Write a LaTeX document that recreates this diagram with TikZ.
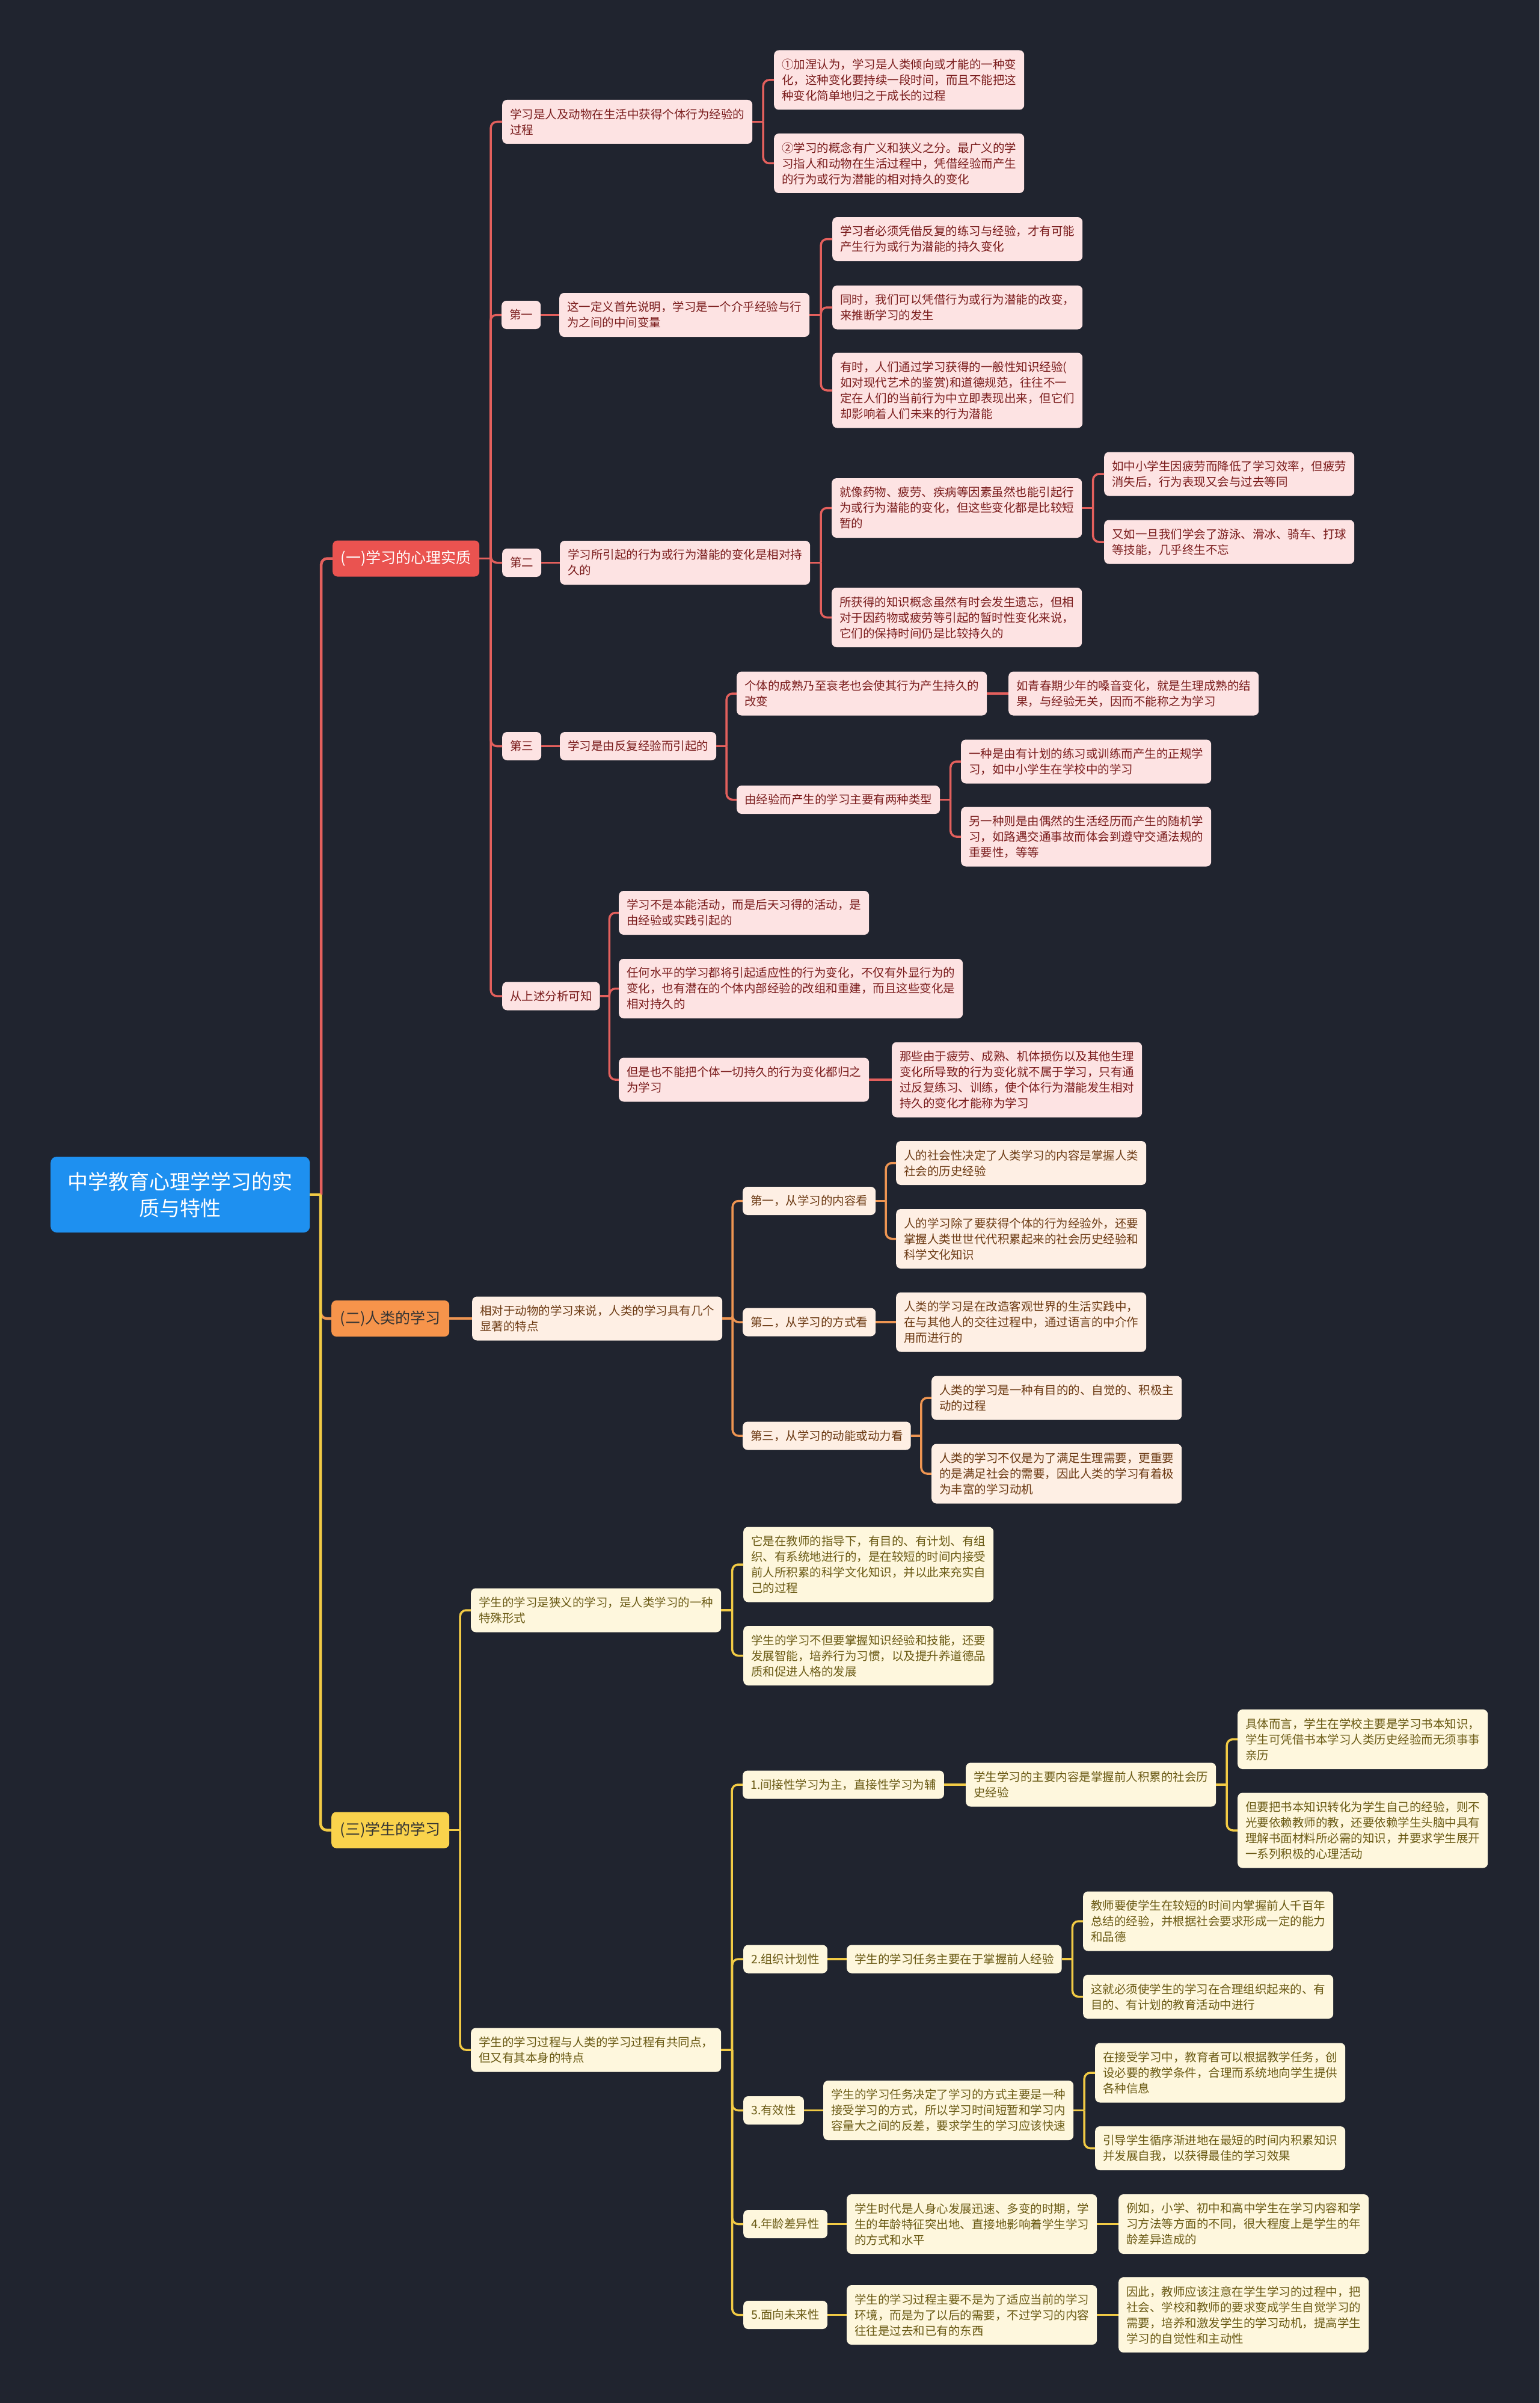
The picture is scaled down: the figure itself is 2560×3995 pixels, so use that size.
\documentclass[tikz,border=0pt]{standalone}
\usepackage{fontspec}
\setmainfont{Noto Sans CJK SC}
\usetikzlibrary{calc}
\definecolor{bgc}{HTML}{20242F}
\definecolor{rootc}{HTML}{1E90F0}
\definecolor{rline}{HTML}{E4605D}
\definecolor{rbr}{HTML}{EA5350}
\definecolor{rfill}{HTML}{FDE3E3}
\definecolor{rtext}{HTML}{7A1C1C}
\definecolor{oline}{HTML}{EE9552}
\definecolor{obr}{HTML}{F6944B}
\definecolor{ofill}{HTML}{FEEFE4}
\definecolor{otext}{HTML}{6B3912}
\definecolor{yline}{HTML}{F2CB45}
\definecolor{ybr}{HTML}{FAD34C}
\definecolor{yfill}{HTML}{FEF7DD}
\definecolor{ytext}{HTML}{6A5A14}
\newcommand\mmlink[3]{%
  \draw[#1] (#2.east) -- ($(#2.east)!0.5!(#3.west |- #2.east)$);
  \draw[#1,rounded corners=10] ($(#2.east)!0.5!(#3.west |- #2.east)$) |- (#3.west);
}
\newcommand\mmstraight[3]{%
  \draw[#1] (#2.east) -- (#3.west);
}
\tikzset{
  base/.style={rounded corners=8, inner xsep=13, inner ysep=4, align=left, anchor=west,
    font=\fontsize{19.5}{26}\selectfont},
  ln/.style={minimum height=26*#1+21},
  rleaf/.style={base, fill=rfill, text=rtext},
  oleaf/.style={base, fill=ofill, text=otext},
  yleaf/.style={base, fill=yfill, text=ytext},
  rootbox/.style={anchor=west, minimum width=431, minimum height=126, fill=rootc, text=white,
    align=center, font=\fontsize{34}{44}\selectfont, rounded corners=10, inner sep=4},
  brbox/.style={anchor=west, minimum height=60, font=\fontsize{25}{30}\selectfont,
    rounded corners=8, align=center, inner sep=4},
  rl/.style={rline, line width=3.5},
  ol/.style={oline, line width=3.5},
  yl/.style={yline, line width=3.5},
  rlt/.style={rline, line width=4.5},
  olt/.style={oline, line width=4.5},
  ylt/.style={yline, line width=4.5},
}
\begin{document}
\begin{tikzpicture}[x=1pt,y=-1pt]
\useasboundingbox (0,0) rectangle (2560,3995);
\fill[bgc] (0,0) rectangle (2560,3995);

% root and branches
\node[rootbox] (root) at (84,1986) {中学教育心理学学习的实\\质与特性};
\node[brbox, minimum width=244, fill=rbr, text=white] (L1) at (553,928.5) {(一)学习的心理实质};
\node[brbox, minimum width=196, fill=obr, text=black!80] (L2) at (551,2192) {(二)人类的学习};
\node[brbox, minimum width=196, fill=ybr, text=black!80] (L3) at (551,3042.5) {(三)学生的学习};

% ---------- branch 1 ----------
\node[rleaf, ln=2] (A1) at (835,202.5) {学习是人及动物在生活中获得个体行为经验的\\过程};
\node[rleaf, ln=3] (A1a) at (1287,133) {①加涅认为，学习是人类倾向或才能的一种变\\化，这种变化要持续一段时间，而且不能把这\\种变化简单地归之于成长的过程};
\node[rleaf, ln=3] (A1b) at (1287,271.5) {②学习的概念有广义和狭义之分。最广义的学\\习指人和动物在生活过程中，凭借经验而产生\\的行为或行为潜能的相对持久的变化};

\node[rleaf, ln=1] (B0) at (834,523.5) {第一};
\node[rleaf, ln=2] (B1) at (930,523.5) {这一定义首先说明，学习是一个介乎经验与行\\为之间的中间变量};
\node[rleaf, ln=2] (B1a) at (1384,397.5) {学习者必须凭借反复的练习与经验，才有可能\\产生行为或行为潜能的持久变化};
\node[rleaf, ln=2] (B1b) at (1384,511) {同时，我们可以凭借行为或行为潜能的改变，\\来推断学习的发生};
\node[rleaf, ln=4] (B1c) at (1384,649) {有时，人们通过学习获得的一般性知识经验(\\如对现代艺术的鉴赏)和道德规范，往往不一\\定在人们的当前行为中立即表现出来，但它们\\却影响着人们未来的行为潜能};

\node[rleaf, ln=1] (C0) at (835,935.5) {第二};
\node[rleaf, ln=2] (C1) at (931,935.5) {学习所引起的行为或行为潜能的变化是相对持\\久的};
\node[rleaf, ln=3] (C1a) at (1383,844.5) {就像药物、疲劳、疾病等因素虽然也能引起行\\为或行为潜能的变化，但这些变化都是比较短\\暂的};
\node[rleaf, ln=3] (C1b) at (1383,1026.5) {所获得的知识概念虽然有时会发生遗忘，但相\\对于因药物或疲劳等引起的暂时性变化来说，\\它们的保持时间仍是比较持久的};
\node[rleaf, ln=2] (C1a1) at (1836,788) {如中小学生因疲劳而降低了学习效率，但疲劳\\消失后，行为表现又会与过去等同};
\node[rleaf, ln=2] (C1a2) at (1836,901) {又如一旦我们学会了游泳、滑冰、骑车、打球\\等技能，几乎终生不忘};

\node[rleaf, ln=1] (D0) at (835,1240.5) {第三};
\node[rleaf, ln=1] (D1) at (931,1240.5) {学习是由反复经验而引起的};
\node[rleaf, ln=2] (D1a) at (1225,1153) {个体的成熟乃至衰老也会使其行为产生持久的\\改变};
\node[rleaf, ln=2] (D1a1) at (1677,1153) {如青春期少年的嗓音变化，就是生理成熟的结\\果，与经验无关，因而不能称之为学习};
\node[rleaf, ln=1] (D1b) at (1225,1329.5) {由经验而产生的学习主要有两种类型};
\node[rleaf, ln=2] (D1b1) at (1598,1266) {一种是由有计划的练习或训练而产生的正规学\\习，如中小学生在学校中的学习};
\node[rleaf, ln=3] (D1b2) at (1598,1391) {另一种则是由偶然的生活经历而产生的随机学\\习，如路遇交通事故而体会到遵守交通法规的\\重要性，等等};

\node[rleaf, ln=1] (E0) at (835,1656) {从上述分析可知};
\node[rleaf, ln=2] (E1) at (1029,1517.5) {学习不是本能活动，而是后天习得的活动，是\\由经验或实践引起的};
\node[rleaf, ln=3] (E2) at (1029,1643.5) {任何水平的学习都将引起适应性的行为变化，不仅有外显行为的\\变化，也有潜在的个体内部经验的改组和重建，而且这些变化是\\相对持久的};
\node[rleaf, ln=2] (E3) at (1029,1795) {但是也不能把个体一切持久的行为变化都归之\\为学习};
\node[rleaf, ln=4] (E3a) at (1483,1795) {那些由于疲劳、成熟、机体损伤以及其他生理\\变化所导致的行为变化就不属于学习，只有通\\过反复练习、训练，使个体行为潜能发生相对\\持久的变化才能称为学习};

% ---------- branch 2 ----------
\node[oleaf, ln=2] (F1) at (785,2192) {相对于动物的学习来说，人类的学习具有几个\\显著的特点};
\node[oleaf, ln=1] (F1a) at (1235,1996.5) {第一，从学习的内容看};
\node[oleaf, ln=2] (F1a1) at (1490,1933.5) {人的社会性决定了人类学习的内容是掌握人类\\社会的历史经验};
\node[oleaf, ln=3] (F1a2) at (1490,2059.5) {人的学习除了要获得个体的行为经验外，还要\\掌握人类世世代代积累起来的社会历史经验和\\科学文化知识};
\node[oleaf, ln=1] (F1b) at (1235,2198) {第二，从学习的方式看};
\node[oleaf, ln=3] (F1b1) at (1490,2198) {人类的学习是在改造客观世界的生活实践中，\\在与其他人的交往过程中，通过语言的中介作\\用而进行的};
\node[oleaf, ln=1] (F1c) at (1235,2387) {第三，从学习的动能或动力看};
\node[oleaf, ln=2] (F1c1) at (1549,2324) {人类的学习是一种有目的的、自觉的、积极主\\动的过程};
\node[oleaf, ln=3] (F1c2) at (1549,2450) {人类的学习不仅是为了满足生理需要，更重要\\的是满足社会的需要，因此人类的学习有着极\\为丰富的学习动机};

% ---------- branch 3 ----------
\node[yleaf, ln=2] (G1) at (783,2677) {学生的学习是狭义的学习，是人类学习的一种\\特殊形式};
\node[yleaf, ln=4] (G1a) at (1236,2601) {它是在教师的指导下，有目的、有计划、有组\\织、有系统地进行的，是在较短的时间内接受\\前人所积累的科学文化知识，并以此来充实自\\己的过程};
\node[yleaf, ln=3] (G1b) at (1236,2752.5) {学生的学习不但要掌握知识经验和技能，还要\\发展智能，培养行为习惯，以及提升养道德品\\质和促进人格的发展};
\node[yleaf, ln=2] (G2) at (783,3408) {学生的学习过程与人类的学习过程有共同点，\\但又有其本身的特点};

\node[yleaf, ln=1] (H1) at (1235,2967) {1.间接性学习为主，直接性学习为辅};
\node[yleaf, ln=2] (H1a) at (1606,2967) {学生学习的主要内容是掌握前人积累的社会历\\史经验};
\node[yleaf, ln=3] (H1a1) at (2058,2891.5) {具体而言，学生在学校主要是学习书本知识，\\学生可凭借书本学习人类历史经验而无须事事\\亲历};
\node[yleaf, ln=4] (H1a2) at (2058,3043) {但要把书本知识转化为学生自己的经验，则不\\光要依赖教师的教，还要依赖学生头脑中具有\\理解书面材料所必需的知识，并要求学生展开\\一系列积极的心理活动};

\node[yleaf, ln=1] (H2) at (1236,3257) {2.组织计划性};
\node[yleaf, ln=1] (H2a) at (1408,3257) {学生的学习任务主要在于掌握前人经验};
\node[yleaf, ln=3] (H2a1) at (1801,3194) {教师要使学生在较短的时间内掌握前人千百年\\总结的经验，并根据社会要求形成一定的能力\\和品德};
\node[yleaf, ln=2] (H2a2) at (1801,3319.5) {这就必须使学生的学习在合理组织起来的、有\\目的、有计划的教育活动中进行};

\node[yleaf, ln=1] (H3) at (1236,3508.5) {3.有效性};
\node[yleaf, ln=3] (H3a) at (1369,3508.5) {学生的学习任务决定了学习的方式主要是一种\\接受学习的方式，所以学习时间短暂和学习内\\容量大之间的反差，要求学生的学习应该快速};
\node[yleaf, ln=3] (H3a1) at (1821,3446) {在接受学习中，教育者可以根据教学任务，创\\设必要的教学条件，合理而系统地向学生提供\\各种信息};
\node[yleaf, ln=2] (H3a2) at (1821,3571.5) {引导学生循序渐进地在最短的时间内积累知识\\并发展自我，以获得最佳的学习效果};

\node[yleaf, ln=1] (H4) at (1236,3697.5) {4.年龄差异性};
\node[yleaf, ln=3] (H4a) at (1408,3697.5) {学生时代是人身心发展迅速、多变的时期，学\\生的年龄特征突出地、直接地影响着学生学习\\的方式和水平};
\node[yleaf, ln=3] (H4a1) at (1860,3697.5) {例如，小学、初中和高中学生在学习内容和学\\习方法等方面的不同，很大程度上是学生的年\\龄差异造成的};

\node[yleaf, ln=1] (H5) at (1236,3848.5) {5.面向未来性};
\node[yleaf, ln=3] (H5a) at (1408,3848.5) {学生的学习过程主要不是为了适应当前的学习\\环境，而是为了以后的需要，不过学习的内容\\往往是过去和已有的东西};
\node[yleaf, ln=4] (H5a1) at (1860,3848.5) {因此，教师应该注意在学生学习的过程中，把\\社会、学校和教师的要求变成学生自觉学习的\\需要，培养和激发学生的学习动机，提高学生\\学习的自觉性和主动性};

% ---------- connectors ----------
\mmlink{rlt}{root}{L1}
\mmlink{olt}{root}{L2}
\mmlink{ylt}{root}{L3}

\mmlink{rl}{L1}{A1}
\mmlink{rl}{L1}{B0}
\mmlink{rl}{L1}{C0}
\mmlink{rl}{L1}{D0}
\mmlink{rl}{L1}{E0}
\mmlink{rl}{A1}{A1a}
\mmlink{rl}{A1}{A1b}
\mmstraight{rl}{B0}{B1}
\mmlink{rl}{B1}{B1a}
\mmlink{rl}{B1}{B1b}
\mmlink{rl}{B1}{B1c}
\mmstraight{rl}{C0}{C1}
\mmlink{rl}{C1}{C1a}
\mmlink{rl}{C1}{C1b}
\mmlink{rl}{C1a}{C1a1}
\mmlink{rl}{C1a}{C1a2}
\mmstraight{rl}{D0}{D1}
\mmlink{rl}{D1}{D1a}
\mmlink{rl}{D1}{D1b}
\mmstraight{rl}{D1a}{D1a1}
\mmlink{rl}{D1b}{D1b1}
\mmlink{rl}{D1b}{D1b2}
\mmlink{rl}{E0}{E1}
\mmlink{rl}{E0}{E2}
\mmlink{rl}{E0}{E3}
\mmstraight{rl}{E3}{E3a}

\mmstraight{ol}{L2}{F1}
\mmlink{ol}{F1}{F1a}
\mmlink{ol}{F1}{F1b}
\mmlink{ol}{F1}{F1c}
\mmlink{ol}{F1a}{F1a1}
\mmlink{ol}{F1a}{F1a2}
\mmstraight{ol}{F1b}{F1b1}
\mmlink{ol}{F1c}{F1c1}
\mmlink{ol}{F1c}{F1c2}

\mmlink{yl}{L3}{G1}
\mmlink{yl}{L3}{G2}
\mmlink{yl}{G1}{G1a}
\mmlink{yl}{G1}{G1b}
\mmlink{yl}{G2}{H1}
\mmlink{yl}{G2}{H2}
\mmlink{yl}{G2}{H3}
\mmlink{yl}{G2}{H4}
\mmlink{yl}{G2}{H5}
\mmstraight{yl}{H1}{H1a}
\mmlink{yl}{H1a}{H1a1}
\mmlink{yl}{H1a}{H1a2}
\mmstraight{yl}{H2}{H2a}
\mmlink{yl}{H2a}{H2a1}
\mmlink{yl}{H2a}{H2a2}
\mmstraight{yl}{H3}{H3a}
\mmlink{yl}{H3a}{H3a1}
\mmlink{yl}{H3a}{H3a2}
\mmstraight{yl}{H4}{H4a}
\mmstraight{yl}{H4a}{H4a1}
\mmstraight{yl}{H5}{H5a}
\mmstraight{yl}{H5a}{H5a1}
\end{tikzpicture}
\end{document}
